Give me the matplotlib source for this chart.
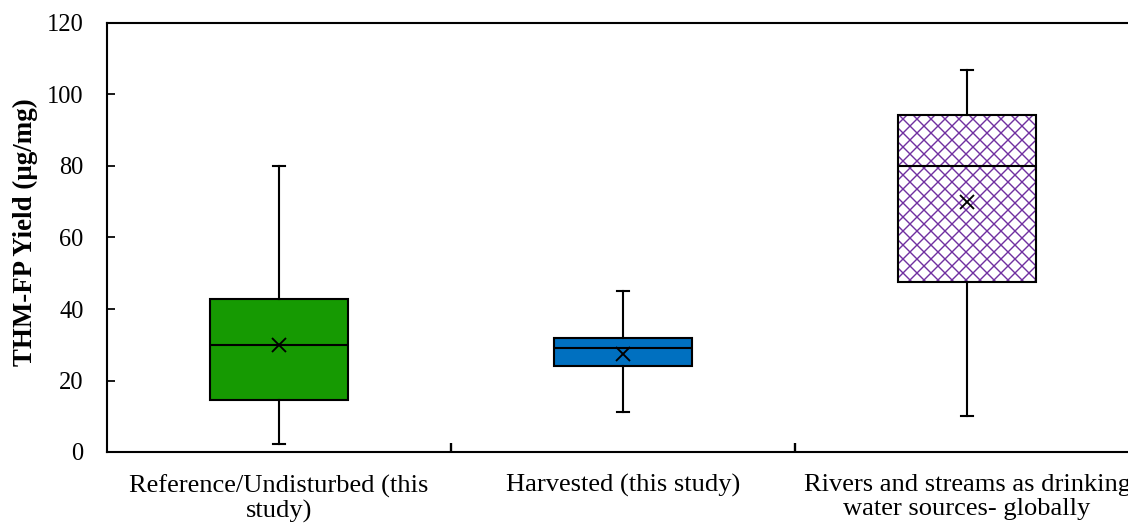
import matplotlib
matplotlib.use("Agg")
import matplotlib.pyplot as plt
from matplotlib.patches import PathPatch
from matplotlib.ticker import FixedLocator, NullFormatter

# Summary statistics of THM-FP yield (µg/mg) for each group
categories = [
    "Reference/Undisturbed (this\nstudy)",
    "Harvested (this study)",
    "Rivers and streams as drinking\nwater sources- globally",
]
whisker_low = [2.2, 11.2, 10.1]
q1 = [14.5, 24.1, 47.6]
median = [29.9, 29.1, 80.0]
q3 = [42.8, 31.9, 94.3]
whisker_high = [80.0, 45.0, 106.9]
means = [29.9, 27.4, 69.9]

plt.rcParams["font.family"] = ["Liberation Serif", "DejaVu Serif"]
plt.rcParams["hatch.linewidth"] = 1.2

DPI = 84
fig = plt.figure(figsize=(1128 / DPI, 527 / DPI), dpi=DPI)
ax = fig.add_axes([107 / 1128, 75 / 527, 1032 / 1128, 429 / 527])

stats = []
for i in range(len(categories)):
    stats.append(dict(med=median[i], q1=q1[i], q3=q3[i],
                      whislo=whisker_low[i], whishi=whisker_high[i],
                      mean=means[i], fliers=[]))

positions = list(range(1, len(categories) + 1))
bp = ax.bxp(stats, positions=positions, widths=0.4, patch_artist=True,
            showmeans=True, showfliers=False,
            boxprops=dict(edgecolor="black", linewidth=1.8),
            medianprops=dict(color="black", linewidth=1.8),
            whiskerprops=dict(color="black", linewidth=1.8),
            capprops=dict(color="black", linewidth=1.8),
            capwidths=0.035,
            meanprops=dict(marker="x", markeredgecolor="black",
                           markersize=12.5, markeredgewidth=1.6))

fills = ["#169A02", "#0070C0", "white"]
for box, fc in zip(bp["boxes"], fills):
    box.set_facecolor(fc)
    box.set_zorder(2)

# Cross-hatched box: purple hatch under a black outline
hatched = bp["boxes"][2]
hatched.set_edgecolor("#7030A0")
hatched.set_hatch("xx")
hatched.set_linewidth(0)
outline = PathPatch(hatched.get_path(), facecolor="none", edgecolor="black",
                    linewidth=1.8, zorder=2.5, transform=hatched.get_transform())
ax.add_patch(outline)
for key in ("medians", "means"):
    for art in bp[key]:
        art.set_zorder(3)

ax.set_xlim(0.5, 3.5)
ax.set_ylim(0, 120)
ax.set_yticks(range(0, 121, 20))
ax.tick_params(axis="y", direction="in", length=7, width=1.5,
               labelsize=21, pad=20)

# Category separators as ticks, labels centred under each box
ax.xaxis.set_major_locator(FixedLocator([1.5, 2.5]))
ax.xaxis.set_major_formatter(NullFormatter())
ax.xaxis.set_minor_locator(FixedLocator(positions))
ax.set_xticks(positions, categories, minor=True)
ax.tick_params(axis="x", which="major", direction="in", length=8, width=2)
ax.tick_params(axis="x", which="minor", length=0, labelsize=22.7, pad=19)
for lbl in ax.get_xticklabels(minor=True):
    lbl.set_linespacing(1.13)

for side in ("left", "bottom", "top", "right"):
    ax.spines[side].set_linewidth(1.8)

ax.set_ylabel("THM-FP Yield (µg/mg)", fontsize=23, fontweight="bold",
              va="center")
ax.yaxis.set_label_coords(-82 / 1032, 0.513)

fig.savefig("out.png", dpi=DPI)
